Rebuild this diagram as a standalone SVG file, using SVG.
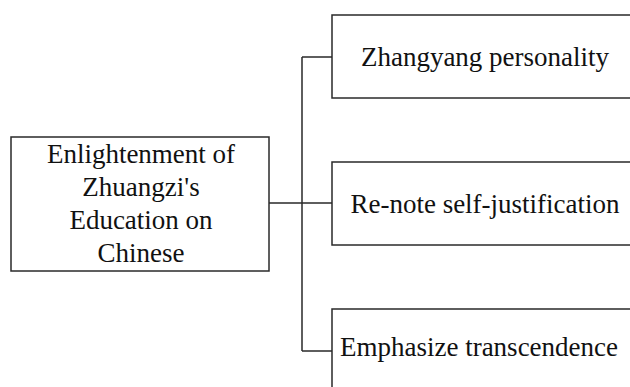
<svg xmlns="http://www.w3.org/2000/svg" width="630" height="387" viewBox="0 0 630 387">
<style>
.box{fill:#fff;stroke:#2a2a2a;stroke-width:1.5}
.t{font-family:"Liberation Serif","Times New Roman","DejaVu Serif",serif;font-size:27px;fill:#111;text-anchor:middle}
.c{fill:none;stroke:#2a2a2a;stroke-width:1.5}
</style>
<rect width="630" height="387" fill="#fff"/>
<g id="connectors">
<path class="c" d="M269,203 H302 M302,57 V351 M302,57 H332 M302,203 H332 M302,351 H332"/>
</g>
<g id="root">
<rect class="box" x="11" y="137" width="258" height="134"/>
<text class="t" x="141" y="163">Enlightenment of</text>
<text class="t" x="141" y="196">Zhuangzi's</text>
<text class="t" x="141" y="229">Education on</text>
<text class="t" x="141" y="262">Chinese</text>
</g>
<g id="n1">
<rect class="box" x="332" y="15" width="310" height="83"/>
<text class="t" x="485" y="66">Zhangyang personality</text>
</g>
<g id="n2">
<rect class="box" x="332" y="162" width="310" height="83"/>
<text class="t" x="485" y="213">Re-note self-justification</text>
</g>
<g id="n3">
<rect class="box" x="332" y="309" width="310" height="90"/>
<text class="t" x="479" y="356">Emphasize transcendence</text>
</g>
</svg>
